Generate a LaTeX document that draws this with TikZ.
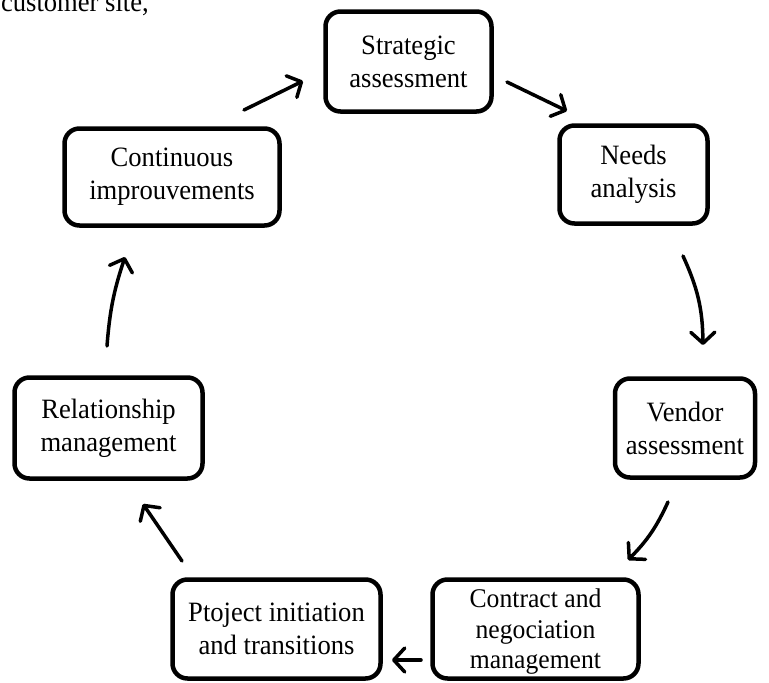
\documentclass[tikz,border=0pt]{standalone}
\usepackage{fontspec}
\setmainfont{Liberation Serif}[FakeStretch=0.95]
\usetikzlibrary{arrows.meta}
\begin{document}
\begin{tikzpicture}[x=1pt,y=-1pt,
  stage/.style={draw=black, line width=4.5pt, rounded corners=15pt,
    align=center, inner sep=0pt, font=\fontsize{28}{33}\selectfont},
  flow/.style={line width=3.5pt, line cap=round, line join=round,
    -{Straight Barb[length=11pt,width=24pt,line cap=round,line join=round]}}]
\useasboundingbox (0,0) rectangle (769,683);
\clip (0,0) rectangle (769,683);

% running text cut off above the cycle
\node[anchor=base east, inner sep=0pt, font=\fontsize{28}{33}\selectfont] (note) at (149,11) {customer site,};

% the seven stages of the cycle
\node[stage, minimum width=166pt, minimum height=100pt] (strat) at (408.5,61.5) {Strategic\\assessment};
\node[stage, minimum width=148pt, minimum height=98pt] (needs) at (633.5,174.5) {Needs\\analysis};
\node[stage, minimum width=140pt, minimum height=99pt] (vendor) at (685,428) {Vendor\\assessment};
\node[stage, minimum width=206pt, minimum height=99pt] (contract) at (535.5,629) {};
\node[align=center, inner sep=0pt, font=\fontsize{27}{30.5}\selectfont] (contracttext) at (535.5,632) {Contract and\\negociation\\management};
\node[stage, minimum width=208pt, minimum height=99pt] (project) at (276.5,629) {Ptoject initiation\\and transitions};
\node[stage, minimum width=188pt, minimum height=101pt] (relation) at (108.5,428) {Relationship\\management};
\node[stage, minimum width=215pt, minimum height=97pt] (improve) at (172,177) {Continuous\\improuvements};

% arrow end points between the stages
\coordinate (sn1) at (507,82);  \coordinate (sn2) at (567,111);
\coordinate (nv1) at (683,256); \coordinate (nv2) at (703,345);
\coordinate (vc1) at (668,502); \coordinate (vc2) at (628,560);
\coordinate (cp1) at (421,660); \coordinate (cp2) at (392,660);
\coordinate (pr1) at (182,561); \coordinate (pr2) at (143,504);
\coordinate (ri1) at (107,346); \coordinate (ri2) at (125,257);
\coordinate (is1) at (244,110); \coordinate (is2) at (303,81);

% connectors
\draw[flow] (sn1) -- (sn2);
\draw[flow] (nv1) to[bend left=12] (nv2);
\draw[flow] (vc1) to[bend left=10] (vc2);
\draw[flow] (cp1) -- (cp2);
\draw[flow] (pr1) -- (pr2);
\draw[flow] (ri1) to[bend left=7] (ri2);
\draw[flow] (is1) -- (is2);
\end{tikzpicture}
\end{document}
